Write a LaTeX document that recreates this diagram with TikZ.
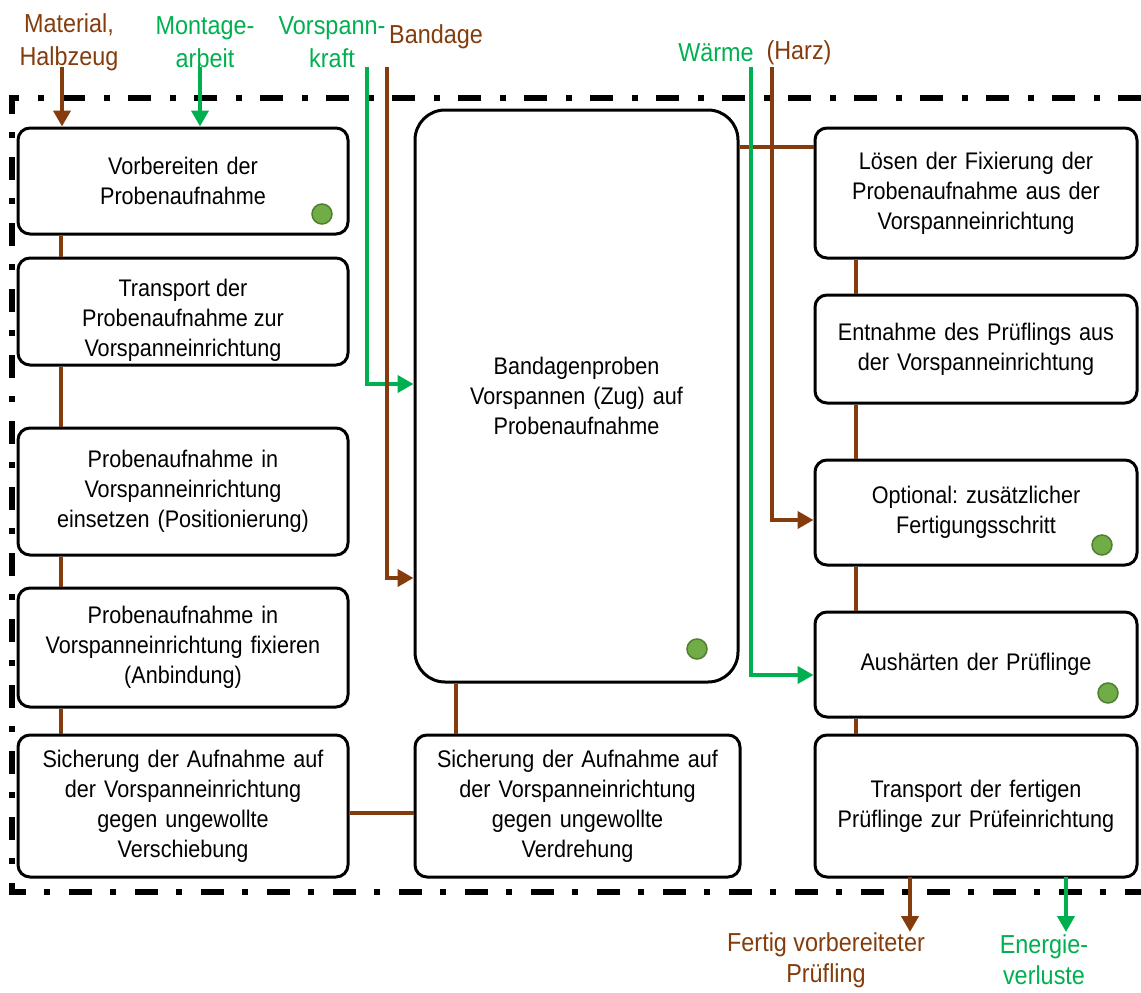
\documentclass[tikz,border=0pt]{standalone}
\usepackage{fontspec}
\setmainfont{Liberation Sans}[FakeStretch=0.9]
\usetikzlibrary{calc,arrows.meta}
\definecolor{matbrown}{HTML}{843C0C}
\definecolor{engreen}{HTML}{00B050}
\definecolor{dotfill}{HTML}{70AD47}
\definecolor{dotline}{HTML}{507E32}
\frenchspacing

\begin{document}
\begin{tikzpicture}[x=1pt,y=-1pt,
    stepbox/.style={draw,line width=3pt,rounded corners=12pt,align=center,
      text width=#1-16pt,minimum width=#1,inner sep=0pt,
      font=\fontsize{24}{30}\selectfont},
    stepbox/.default=330pt,
    dotmark/.style={circle,draw=dotline,fill=dotfill,line width=1.5pt,
      minimum size=20pt,inner sep=0pt},
    matline/.style={draw=matbrown,line width=4pt},
    enline/.style={draw=engreen,line width=4pt},
    matarrow/.style={matline,-{Triangle[width=17pt,length=16pt]}},
    enarrow/.style={enline,-{Triangle[width=17pt,length=16pt]}},
    lbl/.style={align=center,inner sep=0pt,font=\fontsize{26}{33}\selectfont}]
  \useasboundingbox (0,0) rectangle (1141,993);

  %% System border
  \draw[line width=6pt,dash pattern=on 23pt off 18pt on 6pt off 19pt]
    (1141,98) -- (12,98) -- (12,892) -- (1141,892);

  %% Left column
  \node[stepbox,minimum height=106pt] (L1) at (183,181)   {Vorbereiten der\\Probenaufnahme};
  \node[stepbox,minimum height=107pt,
    label={[align=center,font=\fontsize{24}{30}\selectfont,yshift=-9pt]center:Transport der\\Probenaufnahme zur\\Vorspanneinrichtung}]
    (L2) at (183,311.5) {};
  \node[stepbox,minimum height=127pt] (L3) at (183,491.5) {Probenaufnahme in\\Vorspanneinrichtung\\einsetzen (Positionierung)};
  \node[stepbox,minimum height=119pt] (L4) at (183,647.5) {Probenaufnahme in\\Vorspanneinrichtung fixieren\\(Anbindung)};
  \node[stepbox,minimum height=142pt] (L5) at (183,806)   {Sicherung der Aufnahme auf\\der Vorspanneinrichtung\\gegen ungewollte\\Verschiebung};

  %% Middle column
  \node[stepbox=323pt,minimum height=572pt,rounded corners=30pt] (M1) at (576.5,396)
    {Bandagenproben\\Vorspannen (Zug) auf\\Probenaufnahme};
  \node[stepbox=325pt,minimum height=142pt] (M2) at (577.5,806)
    {Sicherung der Aufnahme auf\\der Vorspanneinrichtung\\gegen ungewollte\\Verdrehung};

  %% Right column
  \node[stepbox=322pt,minimum height=130pt] (R1) at (976,193)   {L\"osen der Fixierung der\\Probenaufnahme aus der\\Vorspanneinrichtung};
  \node[stepbox=322pt,minimum height=108pt] (R2) at (976,349)   {Entnahme des Pr\"uflings aus\\der Vorspanneinrichtung};
  \node[stepbox=322pt,minimum height=105pt] (R3) at (976,512.5) {Optional: zus\"atzlicher\\Fertigungsschritt};
  \node[stepbox=322pt,minimum height=105pt] (R4) at (976,664.5) {Aush\"arten der Pr\"uflinge};
  \node[stepbox=322pt,minimum height=142pt] (R5) at (976,806)   {Transport der fertigen\\Pr\"uflinge zur Pr\"ufeinrichtung};

  %% Status dots
  \node[dotmark] (D1) at (322,214)  {};
  \node[dotmark] (D2) at (697,649)  {};
  \node[dotmark] (D3) at (1102,545) {};
  \node[dotmark] (D4) at (1108,693) {};

  %% Links between steps
  \foreach \a/\b in {L1/L2,L2/L3,L3/L4,L4/L5}
    \draw[matline] ([xshift=44pt]\a.south west) -- ([xshift=44pt]\b.north west);
  \foreach \a/\b in {R1/R2,R2/R3,R3/R4,R4/R5}
    \draw[matline] ([xshift=42pt]\a.south west) -- ([xshift=42pt]\b.north west);
  \draw[matline] ([xshift=42pt]M1.south west) -- ([xshift=42pt]M2.north west);
  \draw[matline] ([yshift=-7pt]L5.east) -- ([yshift=-7pt]M2.west);
  \coordinate (MR) at ([yshift=-20pt]R1.north west);
  \draw[matline] (MR) -- (MR -| M1.east);

  %% Inputs
  \node[lbl,text=matbrown] (matl)   at (69,42)  {Material,\\Halbzeug};
  \node[lbl,text=engreen]  (mont)   at (205,42) {Montage-\\arbeit};
  \node[lbl,text=engreen]  (kraft)  at (332,42) {Vorspann-\\kraft};
  \node[lbl,text=matbrown] (band)   at (436,37) {Bandage};
  \node[lbl,text=engreen]  (waerme) at (716,53) {W\"arme};
  \node[lbl,text=matbrown] (harz)   at (799,53) {(Harz)};

  \coordinate (inMat)   at (62,67);
  \coordinate (inMont)  at (200,67);
  \coordinate (inKraft) at (367,67);
  \coordinate (inBand)  at (387,67);
  \coordinate (inWarm)  at (751,67);
  \coordinate (inHarz)  at (772,67);
  \draw[matarrow] (inMat) -- (inMat |- L1.north);
  \draw[enarrow]  (inMont) -- (inMont |- L1.north);
  \draw[enarrow]  (inKraft) |- ([yshift=12pt]M1.west);
  \draw[matarrow] (inBand) |- ([yshift=-182pt]M1.west);
  \draw[enarrow]  (inWarm) |- ([yshift=-10.5pt]R4.west);
  \draw[matarrow] (inHarz) |- ([yshift=-7.5pt]R3.west);

  %% Outputs
  \node[lbl,text=matbrown,font=\fontsize{26}{31}\selectfont] (fertig) at (826,960)  {Fertig vorbereiteter\\Pr\"ufling};
  \node[lbl,text=engreen,font=\fontsize{26}{31}\selectfont]  (verl)   at (1044,960) {Energie-\\verluste};
  \coordinate (outMat) at (910,877);
  \coordinate (outEn)  at (1066,877);
  \draw[matarrow] (outMat) -- (outMat |- 0,932);
  \draw[enarrow]  (outEn) -- (outEn |- 0,932);
\end{tikzpicture}
\end{document}
